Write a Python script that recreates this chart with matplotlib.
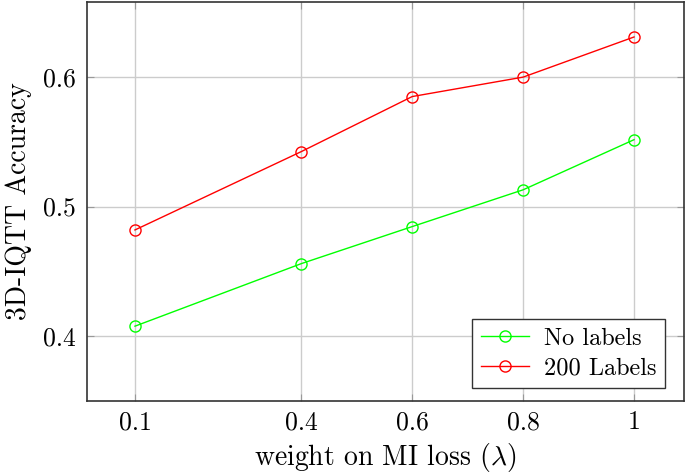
import matplotlib
matplotlib.use("Agg")
import matplotlib.pyplot as plt

plt.rcParams['font.family'] = 'cmr10'
plt.rcParams['mathtext.fontset'] = 'cm'
plt.rcParams['axes.formatter.use_mathtext'] = True

weights = [0.1, 0.4, 0.6, 0.8, 1.0]
x_labels = ['0.1', '0.4', '0.6', '0.8', '1']
no_labels = [0.4077, 0.456, 0.4846, 0.513, 0.5517]
labels_200 = [0.482, 0.5425, 0.585, 0.600, 0.631]
y_ticks = [0.4, 0.5, 0.6]
y_labels = ['0.4', '0.5', '0.6']

fig = plt.figure(figsize=(6.85, 4.75), dpi=100)
ax = fig.add_axes([0.127, 0.156, 0.8715, 0.8398])

ax.plot(weights, no_labels, color='#00ff00', lw=1, marker='o', ms=8,
        mfc='none', mew=1, label='No labels', zorder=3)
ax.plot(weights, labels_200, color='#ff0000', lw=1, marker='o', ms=8,
        mfc='none', mew=1, label='200 Labels', zorder=3)

ax.set_xlim(0.0135, 1.09)
ax.set_ylim(0.35, 0.658)
ax.set_xticks(weights)
ax.set_xticklabels(x_labels)
ax.set_yticks(y_ticks)
ax.set_yticklabels(y_labels)
ax.tick_params(direction='in', length=5, color='#999999', labelsize=18.5,
               top=True, right=True)
ax.tick_params(axis='x', pad=7)
ax.tick_params(axis='y', pad=8)
ax.grid(True, color='#cccccc', lw=1)
ax.set_axisbelow(True)
for s in ax.spines.values():
    s.set_color('#333333')
    s.set_linewidth(1.2)

ax.set_xlabel(r'weight on MI loss ($\lambda$)', fontsize=20, labelpad=5)
ax.set_ylabel('3D-IQTT Accuracy', fontsize=20, labelpad=8)

leg = ax.legend(loc='lower right', bbox_to_anchor=(0.968, 0.033),
                borderaxespad=0, fontsize=17.5,
                fancybox=False, edgecolor='#333333', framealpha=1,
                handlelength=2.0, borderpad=0.35, labelspacing=0.3,
                handletextpad=0.6)
leg.get_frame().set_linewidth(1)

fig.savefig('out.png', dpi=100)
